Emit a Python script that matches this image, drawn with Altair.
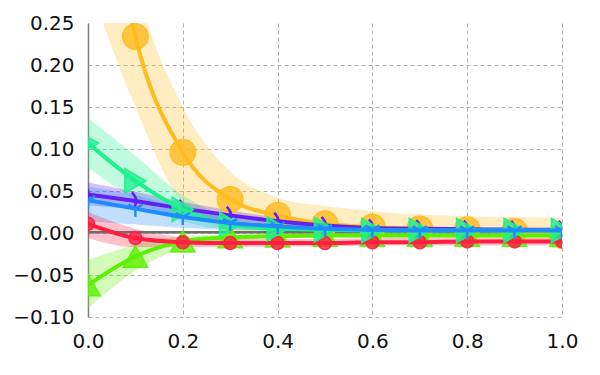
import altair as alt
import pandas as pd

xs = [0.0, 0.1, 0.2, 0.3, 0.4, 0.5, 0.6, 0.7, 0.8, 0.9, 1.0]

orange_y  = [0.56, 0.234, 0.096, 0.040, 0.021, 0.011, 0.007, 0.005, 0.004, 0.002, -0.003]
orange_lo = [0.30, 0.150, 0.035, 0.004, -0.002, -0.004, -0.005, -0.006, -0.006, -0.007, -0.008]
orange_hi = [0.60, 0.300, 0.150, 0.073, 0.042, 0.032, 0.026, 0.022, 0.020, 0.019, 0.018]

teal_y  = [0.107, 0.062, 0.028, 0.010, 0.005, 0.004, 0.003, 0.003, 0.003, 0.003, 0.003]
teal_lo = [0.078, 0.040, 0.014, 0.004, 0.002, 0.001, 0.001, 0.001, 0.001, 0.001, 0.001]
teal_hi = [0.137, 0.092, 0.045, 0.018, 0.009, 0.006, 0.005, 0.005, 0.005, 0.005, 0.005]

purple_y  = [0.046, 0.038, 0.029, 0.021, 0.014, 0.009, 0.006, 0.005, 0.0045, 0.004, 0.004]
purple_lo = [0.033, 0.028, 0.021, 0.015, 0.010, 0.006, 0.004, 0.003, 0.003, 0.002, 0.002]
purple_hi = [0.060, 0.049, 0.037, 0.027, 0.018, 0.012, 0.008, 0.007, 0.006, 0.006, 0.006]

blue_y  = [0.039, 0.029, 0.019, 0.012, 0.008, 0.005, 0.004, 0.003, 0.003, 0.003, 0.003]
blue_lo = [0.014, 0.010, 0.006, 0.004, 0.003, 0.002, 0.001, 0.001, 0.001, 0.001, 0.001]
blue_hi = [0.055, 0.045, 0.030, 0.020, 0.013, 0.008, 0.006, 0.005, 0.005, 0.005, 0.005]

green_y  = [-0.062, -0.028, -0.010, -0.005, -0.004, -0.003, -0.003, -0.003, -0.003, -0.003, -0.003]
green_lo = [-0.090, -0.045, -0.018, -0.009, -0.006, -0.005, -0.005, -0.005, -0.005, -0.005, -0.005]
green_hi = [-0.032, -0.014, -0.004, -0.002, -0.001, -0.001, -0.001, -0.001, -0.001, -0.001, -0.001]

red_y  = [0.011, -0.006, -0.011, -0.012, -0.012, -0.012, -0.011, -0.011, -0.010, -0.010, -0.010]
red_lo = [-0.006, -0.017, -0.017, -0.017, -0.016, -0.016, -0.015, -0.015, -0.015, -0.015, -0.015]
red_hi = [0.025, 0.005, -0.005, -0.007, -0.007, -0.007, -0.006, -0.006, -0.006, -0.006, -0.006]

gray_y = [0.001, 0.001, 0.001, 0.001, 0.001, 0.001, 0.001, 0.001, 0.001, 0.001, 0.001]

x_ticks = [0, 0.2, 0.4, 0.6, 0.8, 1.0]
y_ticks = [-0.1, -0.05, 0, 0.05, 0.1, 0.15, 0.2, 0.25]

TRI_DOWN = "M0,0L0,1M0,0L-0.87,-0.5M0,0L0.87,-0.5"
ARC = "M-0.4,-1Q0.6,0,-0.4,1"

series = [
    # name, color, y, lo, hi, shape, size, filled
    ("orange", "#ffbc1f", orange_y, orange_lo, orange_hi, "circle", 650, True),
    ("green", "#5cf000", green_y, green_lo, green_hi, "triangle-up", 600, True),
    ("red", "#ff1e40", red_y, red_lo, red_hi, "circle", 170, True),
    ("purple", "#6420f0", purple_y, purple_lo, purple_hi, ARC, 300, False),
    ("teal", "#1ef08e", teal_y, teal_lo, teal_hi, "triangle-right", 600, True),
    ("blue", "#1e8cff", blue_y, blue_lo, blue_hi, TRI_DOWN, 260, False),
]

xscale = alt.Scale(domain=[0, 1], nice=False)
yscale = alt.Scale(domain=[-0.1, 0.25], nice=False)

xaxis = alt.Axis(values=x_ticks, format=".1f", title=None, labelFlush=False)
yaxis = alt.Axis(values=y_ticks, format=".2f", title=None, labelFlush=False,
                 gridOpacity={"condition": {"test": "datum.value > 0.24", "value": 0}, "value": 1})

layers = []
band_order = ["orange", "teal", "purple", "blue", "green", "red"]
smap = {s[0]: s for s in series}
for name in band_order:
    n, c, y, lo, hi, *_ = smap[name]
    df = pd.DataFrame({"x": xs, "lo": lo, "hi": hi})
    layers.append(
        alt.Chart(df).mark_area(color=c, opacity=0.28, interpolate="monotone", clip=True)
        .encode(x=alt.X("x:Q", scale=xscale, axis=xaxis), y=alt.Y("lo:Q", scale=yscale, axis=yaxis), y2="hi:Q")
    )

gdf = pd.DataFrame({"x": xs, "y": gray_y})
layers.append(
    alt.Chart(gdf).mark_line(color="#6e6e6e", strokeWidth=2.5, clip=True)
    .encode(x=alt.X("x:Q", scale=xscale), y=alt.Y("y:Q", scale=yscale))
)

for n, c, y, lo, hi, shape, size, filled in series:
    df = pd.DataFrame({"x": xs, "y": y})
    layers.append(
        alt.Chart(df).mark_line(color=c, strokeWidth=4, interpolate="monotone", clip=True)
        .encode(x=alt.X("x:Q", scale=xscale), y=alt.Y("y:Q", scale=yscale))
    )
    if filled:
        pm = alt.Chart(df).mark_point(shape=shape, size=size, filled=True, color=c,
                                      fillOpacity=0.8, stroke=c, strokeWidth=1.5, strokeOpacity=0.9, clip=True)
    else:
        pm = alt.Chart(df).mark_point(shape=shape, size=size, filled=False, color=c,
                                      strokeWidth=2.5, opacity=1, clip=True)
    layers.append(pm.encode(x=alt.X("x:Q", scale=xscale), y=alt.Y("y:Q", scale=yscale)))

chart = alt.layer(*layers).properties(
    width=474, height=294,
    autosize=alt.AutoSizeParams(type="none"),
    padding={"left": 80, "top": 15, "right": 30, "bottom": 50},
).configure_view(stroke=None).configure_axis(
    labelFont="DejaVu Sans", labelFontSize=20, labelColor="#111111",
    grid=True, gridColor="#a8a8a8", gridDash=[4, 3], gridWidth=0.9,
    ticks=False, domain=False,
).configure_axisY(
    domain=True, domainColor="#808080", domainWidth=1.5, labelPadding=14,
).configure_axisX(
    labelPadding=14,
)

chart.save("out.html", embed_options={"renderer": "svg", "actions": False})
